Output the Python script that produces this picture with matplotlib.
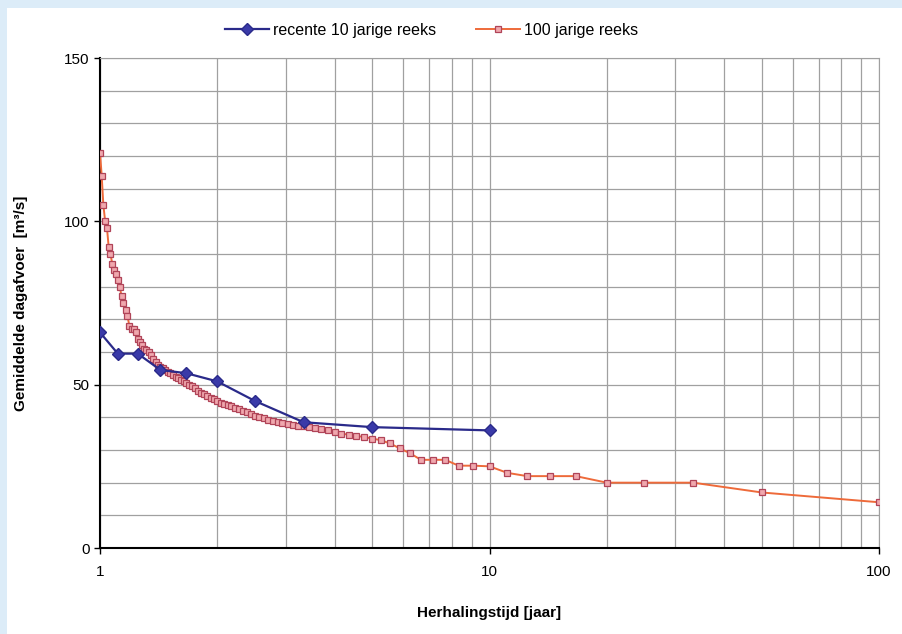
import matplotlib.pyplot as plt
from matplotlib.patches import Rectangle
from matplotlib.ticker import FixedLocator, NullFormatter

# ----------------- DATA -----------------
# recente 10 jarige reeks: herhalingstijd [jaar] en afvoer [m3/s]
T_10 = [1.0, 1.111, 1.25, 1.429, 1.667, 2.0, 2.5, 3.333, 5.0, 10.0]
Q_10 = [66, 59.5, 59.5, 54.5, 53.5, 51, 45, 38.5, 37, 36]

# 100 jarige reeks
T_100 = [1.000, 1.010, 1.020, 1.031, 1.042, 1.053, 1.064, 1.075, 1.087, 1.099,
         1.111, 1.124, 1.136, 1.149, 1.163, 1.176, 1.190, 1.205, 1.220, 1.235,
         1.250, 1.266, 1.282, 1.299, 1.316, 1.333, 1.351, 1.370, 1.389, 1.408,
         1.429, 1.449, 1.471, 1.493, 1.515, 1.538, 1.563, 1.587, 1.613, 1.639,
         1.667, 1.695, 1.724, 1.754, 1.786, 1.818, 1.852, 1.887, 1.923, 1.961,
         2.000, 2.041, 2.083, 2.128, 2.174, 2.222, 2.273, 2.326, 2.381, 2.439,
         2.500, 2.564, 2.632, 2.703, 2.778, 2.857, 2.941, 3.030, 3.125, 3.226,
         3.333, 3.448, 3.571, 3.704, 3.846, 4.000, 4.167, 4.348, 4.545, 4.762,
         5.000, 5.263, 5.556, 5.882, 6.250, 6.667, 7.143, 7.692, 8.333, 9.091,
         10.000, 11.111, 12.500, 14.286, 16.667, 20.000, 25.000, 33.333, 50.000, 100.000]
Q_100 = [121, 114, 105, 100, 98, 92, 90, 87, 85, 84,
         82, 80, 77, 75, 73, 71, 68, 67, 67, 66,
         64, 63, 62, 61, 60.5, 60, 59, 58, 57, 56,
         55.5, 55, 54.5, 54, 53.5, 53, 52.5, 52, 51.5, 51,
         50.5, 50, 49.5, 49, 48, 47.5, 47, 46.5, 46, 45.5,
         45, 44.5, 44, 43.8, 43.5, 43, 42.5, 42, 41.5, 41,
         40.5, 40, 39.7, 39.3, 39, 38.7, 38.4, 38.1, 37.8, 37.5,
         37.3, 37, 36.7, 36.4, 36, 35.5, 35, 34.7, 34.3, 34,
         33.5, 33, 32, 30.5, 29, 27, 27, 27, 25.2, 25.2,
         25, 23, 22, 22, 22, 20, 20, 20, 17, 14]

LABEL_10 = "recente 10 jarige reeks"
LABEL_100 = "100 jarige reeks"

plt.rcParams['font.family'] = ['Liberation Sans', 'DejaVu Sans']

fig = plt.figure(figsize=(9.02, 6.34), dpi=100)
fig.patch.set_facecolor("#dcecf8")
fig.patches.append(Rectangle((7 / 902, 0), 1, 1 - 8 / 634, transform=fig.transFigure,
                             facecolor="white", edgecolor="none", zorder=-10))

ax = fig.add_axes([100 / 902, (634 - 548) / 634, 779 / 902, 490 / 634])
ax.set_zorder(5)
ax.set_xscale("log")
ax.set_xlim(1, 100)
ax.set_ylim(0, 150)

ax.plot(T_100, Q_100, color="#ee6a3a", lw=1.4, marker="s", ms=4.5,
        mfc="#f0a8ae", mec="#b04458", mew=0.9, label=LABEL_100, zorder=3)
ax.plot(T_10, Q_10, color="#2a2a8a", lw=1.6, marker="D", ms=6.5,
        mfc="#3a3aa8", mec="#2a2a8a", label=LABEL_10, zorder=4)

# ticks and grid
ax.yaxis.set_major_locator(FixedLocator([0, 50, 100, 150]))
ax.yaxis.set_minor_locator(FixedLocator(list(range(0, 151, 10))))
minor_x = [2, 3, 4, 5, 6, 7, 8, 9, 20, 30, 40, 50, 60, 70, 80, 90]
ax.xaxis.set_major_locator(FixedLocator([1, 10, 100]))
ax.xaxis.set_minor_locator(FixedLocator(minor_x))
ax.xaxis.set_minor_formatter(NullFormatter())
ax.set_xticklabels(["1", "10", "100"])
ax.grid(True, which="both", color="#a0a0a0", lw=0.9)
ax.tick_params(which="minor", length=0)
ax.tick_params(which="major", length=4, width=1, labelsize=11)
ax.tick_params(axis="x", which="major", pad=8)
ax.set_axisbelow(True)

for side in ["top", "right"]:
    ax.spines[side].set_color("#a0a0a0")
for side in ["left", "bottom"]:
    ax.spines[side].set_linewidth(1.5)

ax.set_xlabel("Herhalingstijd [jaar]", fontsize=11, fontweight="bold", labelpad=20)
ax.set_ylabel("Gemiddelde dagafvoer  [m\u00b3/s]", fontsize=11, fontweight="bold", labelpad=26)

handles, labels = ax.get_legend_handles_labels()
fig.legend(handles[::-1], labels[::-1], loc="center", bbox_to_anchor=(0.478, 1 - 30 / 634),
           ncol=2, frameon=False, fontsize=11.5, handlelength=2.8, handletextpad=0.2,
           columnspacing=2.5)

plt.savefig("out.png", dpi=100)
